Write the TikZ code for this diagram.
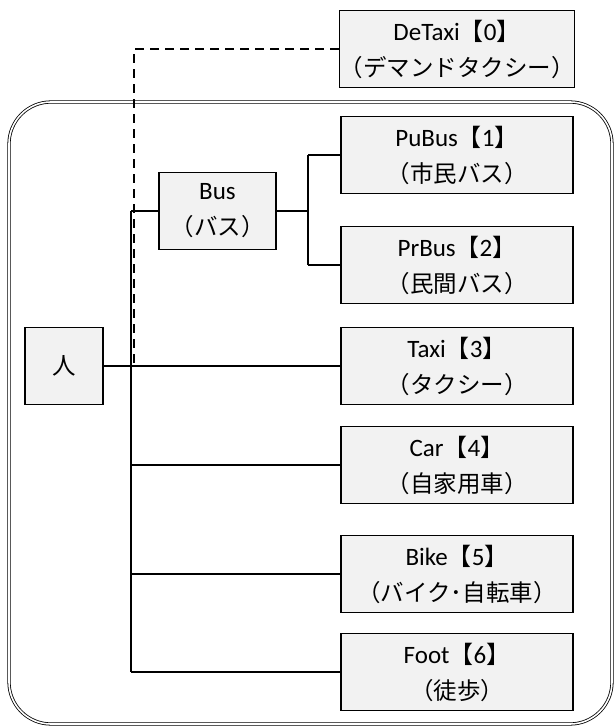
\documentclass[tikz,border=0pt]{standalone}
\usepackage{fontspec}
\setmainfont{Carlito}
\newfontfamily\cjk{Noto Sans CJK JP}
\definecolor{boxgray}{HTML}{F2F2F2}
\newcommand\lbk{{\cjk\fontsize{24}{36}\selectfont 【}}
\newcommand\rbk{{\cjk\fontsize{24}{36}\selectfont 】}}
\newcommand\jp[1]{{\cjk\fontsize{23.5}{36}\selectfont #1}}
\begin{document}
\begin{tikzpicture}[x=1pt,y=-1pt,
  box/.style={draw, line width=1.3pt, fill=boxgray, align=center, inner sep=0pt,
    minimum width=232pt, minimum height=77pt, font=\fontsize{25}{36}\selectfont},
  conn/.style={line width=1.4pt},
  frame/.style={double, line width=0.8pt, double distance=1.6pt, rounded corners=42pt}]
\useasboundingbox (0,0) rectangle (615,727);
\draw[frame] (9,102) rectangle (612,724);
\node[box] (detaxi) at (457,49) {DeTaxi\lbk0\rbk\\\jp{（デマンドタクシー）}};
\node[box] (pubus) at (457,155) {PuBus\lbk1\rbk\\\jp{（市民バス）}};
\node[box] (prbus) at (457,265) {PrBus\lbk2\rbk\\\jp{（民間バス）}};
\node[box] (taxi) at (457,366) {Taxi\lbk3\rbk\\\jp{（タクシー）}};
\node[box] (car) at (457,465) {Car\lbk4\rbk\\\jp{（自家用車）}};
\node[box] (bike) at (457,574) {Bike\lbk5\rbk\\\jp{（バイク･自転車）}};
\node[box] (foot) at (457,672) {Foot\lbk6\rbk\\\jp{（徒歩）}};
\node[box, minimum width=117pt] (bus) at (217.5,211) {Bus\\\jp{（バス）}};
\node[box, minimum width=78pt] (hito) at (64,366) {\jp{人}};
\coordinate (tr) at (131,0);
\coordinate (bs) at (308,0);
\coordinate (dx) at (134,0);
\draw[conn] (tr |- bus.west) -- (tr |- foot.west);
\draw[conn] (tr |- bus.west) -- (bus.west);
\draw[conn] (hito.east) -- (taxi.west);
\draw[conn] (tr |- car.west) -- (car.west);
\draw[conn] (tr |- bike.west) -- (bike.west);
\draw[conn] (tr |- foot.west) -- (foot.west);
\draw[conn] (bus.east) -- (bs |- bus.east);
\draw[conn] (bs |- pubus.west) -- (bs |- prbus.west);
\draw[conn] (bs |- pubus.west) -- (pubus.west);
\draw[conn] (bs |- prbus.west) -- (prbus.west);
\draw[conn, dash pattern=on 9pt off 6pt] (detaxi.west) -- (dx |- detaxi.west) -- (dx |- hito.east);
\end{tikzpicture}
\end{document}
